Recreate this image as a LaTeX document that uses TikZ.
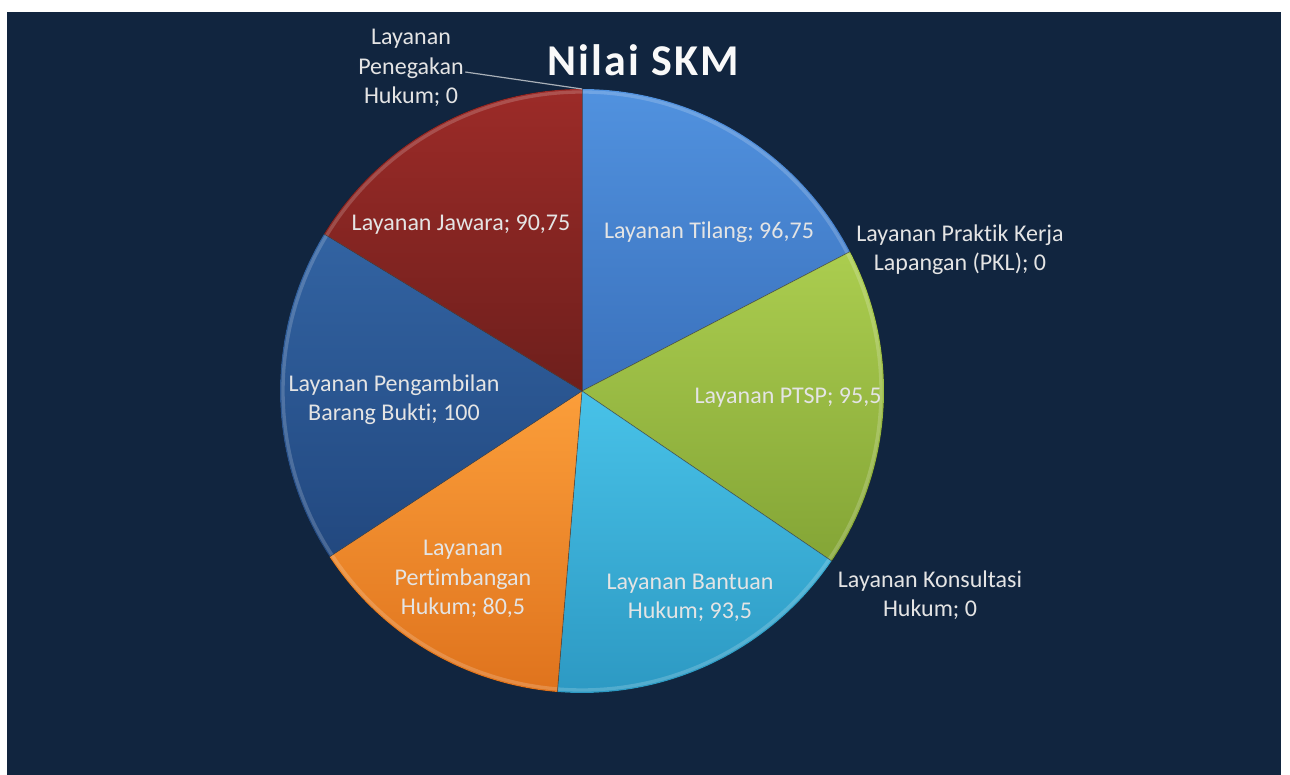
\documentclass[tikz,border=0pt]{standalone}
\usepackage{fontspec}
\setmainfont{Carlito}[Ligatures=NoCommon]
\usepackage{tikz}
\usetikzlibrary{positioning,calc,shadows}
\definecolor{bgNavy}{HTML}{11253F}
\definecolor{lblGray}{HTML}{E4E4E4}
\definecolor{leadGray}{HTML}{A9B0B8}
\definecolor{tilTop}{HTML}{5192DF}
\definecolor{tilBot}{HTML}{3A71BC}
\definecolor{ptsTop}{HTML}{ABCD4F}
\definecolor{ptsBot}{HTML}{84A536}
\definecolor{banTop}{HTML}{48C2E8}
\definecolor{banBot}{HTML}{2C98C2}
\definecolor{perTop}{HTML}{FB9E3A}
\definecolor{perBot}{HTML}{DF731D}
\definecolor{pengTop}{HTML}{3263A2}
\definecolor{pengBot}{HTML}{22487F}
\definecolor{jawTop}{HTML}{9C2B28}
\definecolor{jawBot}{HTML}{6E1F1C}
% keeps "t" and "i" apart (no ligature)
\newcommand{\tiSep}{t\kern0pt i}

\begin{document}
\begin{tikzpicture}[x=0.75pt,y=0.75pt,
  lbl/.style={text=lblGray,align=center,inner sep=1pt,font=\fontsize{18}{22}\selectfont},
  ttl/.style={text=white!95!gray,font=\fontsize{33}{36}\selectfont\bfseries\addfontfeature{LetterSpace=5}},
  leader/.style={leadGray,line width=0.9pt},
  rim/.style={draw=black!70,line width=0.6pt,draw opacity=0.6}
]
\useasboundingbox (0,0) rectangle (1290,775);
\fill[white] (0,0) rectangle (1290,775);
\fill[bgNavy] (7,0) rectangle (1281,763);

% slices: start/end angle, shading top/bottom
\begin{scope}[shift={(582,384)}]
\foreach \a/\b/\ct/\cb in {90/27.47/tilTop/tilBot,27.47/-34.25/ptsTop/ptsBot,-34.25/-94.68/banTop/banBot,-94.68/-146.71/perTop/perBot,-146.71/-211.34/pengTop/pengBot,-211.34/-270/jawTop/jawBot}{
  \fill[top color=\ct,bottom color=\cb] (0,0) -- (\a:302) arc[start angle=\a,end angle=\b,radius=302] -- cycle;
  \draw[white,line width=2.5pt,opacity=0.18] (\a:299) arc[start angle=\a,end angle=\b,radius=299];
  \draw[rim] (0,0) -- (\a:302);
}
\coordinate (pietop) at (90:302);
\end{scope}

\node[ttl] (title) at (643,715) {Nilai SKM};

\node[lbl] (tilang) at (709,543) {Layanan Tilang; 96,75};
\node[lbl] (pkl) at (960,525) {Layanan Prak\tiSep k Kerja\\Lapangan (PKL); 0};
\node[lbl] (ptsp) at (788,377) {Layanan PTSP; 95,5};
\node[lbl] (kons) at (930,180) {Layanan Konsultasi\\Hukum; 0};
\node[lbl] (bantuan) at (690,177) {Layanan Bantuan\\Hukum; 93,5};
\node[lbl] (pert) at (463,196) {Layanan\\Per\tiSep mbangan\\Hukum; 80,5};
\node[lbl] (peng) at (394,375) {Layanan Pengambilan\\Barang Buk\tiSep; 100};
\node[lbl] (jawara) at (461,550) {Layanan Jawara; 90,75};
\node[lbl] (pen) at (411,707) {Layanan\\Penegakan\\Hukum; 0};

\draw[leader] ([yshift=-3pt]pen.east) -- (pietop);
\end{tikzpicture}
\end{document}
